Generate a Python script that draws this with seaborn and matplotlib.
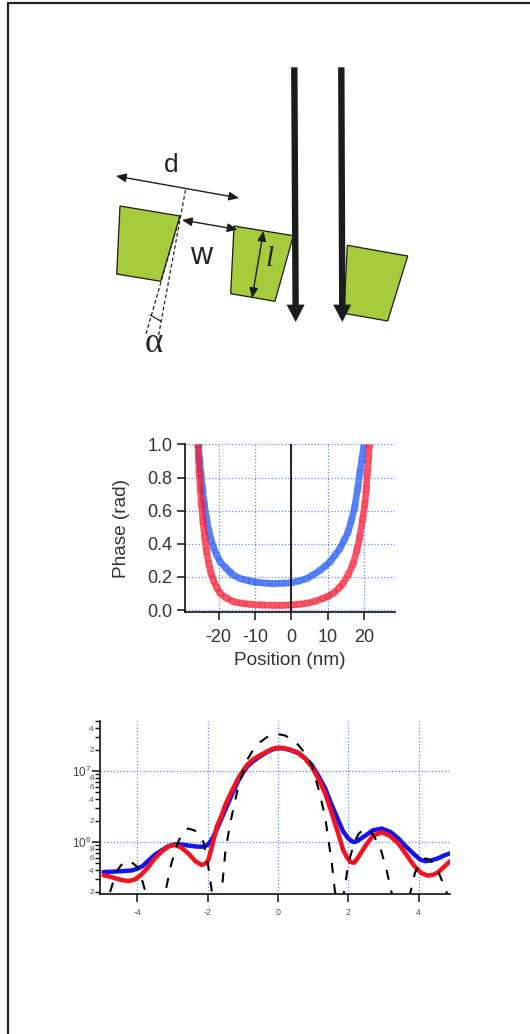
import numpy as np
import matplotlib
matplotlib.use('Agg')
import matplotlib.pyplot as plt
from matplotlib.patches import Polygon, FancyArrowPatch
from matplotlib.ticker import FixedLocator, FixedFormatter
import seaborn as sns

W, H = 530, 1034

# phase plot
blue_pos = [-25.5, -25.2, -24.8, -24.4, -23.9, -23.3, -22.7, -22, -21.4, -20.5, -19.5, -18, -16.9, -15.9, -14, -12.2, -10.8, -9.5, -7, -4.9, -2.5, 0, 2, 4.2, 6, 7.9, 9.3, 10.6, 12, 13.3, 14.5, 15.6, 16.5, 17.4, 18.2, 18.8, 19.4, 20]
blue_phase = [1.0, .9, .82, .73, .64, .55, .48, .42, .38, .33, .29, .255, .23, .21, .19, .18, .172, .167, .162, .16, .161, .165, .175, .19, .212, .24, .265, .29, .33, .37, .42, .47, .54, .62, .73, .825, .91, 1.0]
red_pos = [-25.7, -25.5, -25.3, -25, -24.7, -24.3, -23.8, -23.3, -22.7, -22.1, -21.4, -20.5, -19.5, -18, -15.9, -13.5, -11.3, -8, -4.9, -2.5, 0, 2, 4.2, 6.5, 8.8, 10.2, 11.5, 13, 14.2, 15.7, 17, 18, 18.8, 19.6, 20.2, 20.6, 20.9, 21.2, 21.5]
red_phase = [1.0, .91, .825, .73, .64, .54, .44, .355, .28, .225, .18, .135, .10, .075, .05, .04, .034, .03, .028, .028, .03, .034, .04, .052, .07, .083, .10, .13, .16, .215, .28, .36, .44, .55, .64, .73, .825, .91, 1.0]

# log plot, values as log10
blue_x = [-4.96, -4.7, -4.4, -4.15, -4, -3.85, -3.7, -3.5, -3.3, -3.1, -2.93, -2.75, -2.55, -2.3, -2.12, -2.0, -1.9, -1.79, -1.65, -1.5, -1.3, -1.13, -1.0, -.88, -.7, -.5, -.3, -.15, 0, .15, .35, .58, .78, .96, 1.15, 1.34, 1.52, 1.71, 1.85, 2.0, 2.1, 2.19, 2.3, 2.47, 2.7, 2.95, 3.2, 3.42, 3.65, 3.89, 4.05, 4.18, 4.35, 4.55, 4.72, 4.89]
blue_log = [5.577, 5.582, 5.59, 5.60, 5.624, 5.66, 5.73, 5.82, 5.885, 5.945, 5.967, 5.965, 5.95, 5.935, 5.934, 5.96, 6.02, 6.12, 6.28, 6.45, 6.68, 6.863, 6.97, 7.06, 7.14, 7.21, 7.27, 7.305, 7.32, 7.32, 7.295, 7.25, 7.175, 7.085, 6.93, 6.756, 6.53, 6.31, 6.15, 6.05, 6.01, 6.0, 6.03, 6.085, 6.165, 6.19, 6.14, 6.05, 5.93, 5.817, 5.75, 5.73, 5.74, 5.77, 5.81, 5.84]
red_x = [-4.96, -4.8, -4.63, -4.45, -4.25, -4.08, -3.92, -3.75, -3.5, -3.3, -3.1, -2.93, -2.75, -2.55, -2.35, -2.17, -2.05, -1.98, -1.87, -1.74, -1.6, -1.5, -1.3, -1.13, -1, -.88, -.7, -.5, -.37, -.15, 0, .15, .35, .58, .78, .96, 1.15, 1.34, 1.52, 1.71, 1.85, 1.95, 2.05, 2.17, 2.3, 2.47, 2.7, 2.95, 3.2, 3.42, 3.65, 3.89, 4.08, 4.27, 4.42, 4.55, 4.72, 4.89]
red_log = [5.531, 5.515, 5.489, 5.465, 5.451, 5.47, 5.525, 5.61, 5.77, 5.87, 5.94, 5.958, 5.92, 5.84, 5.73, 5.676, 5.70, 5.746, 5.95, 6.215, 6.38, 6.52, 6.73, 6.897, 7.0, 7.085, 7.165, 7.225, 7.258, 7.315, 7.328, 7.325, 7.30, 7.258, 7.17, 7.06, 6.89, 6.686, 6.42, 6.122, 5.89, 5.793, 5.72, 5.708, 5.80, 5.934, 6.09, 6.137, 6.08, 5.98, 5.82, 5.652, 5.56, 5.525, 5.54, 5.573, 5.65, 5.73]
dash_x = [-4.85, -4.77, -4.6, -4.4, -4.2, -4, -3.9, -3.77, -3.5, -3.2, -3.03, -2.84, -2.7, -2.55, -2.36, -2.12, -1.98, -1.88, -1.75, -1.6, -1.5, -1.36, -1.13, -1, -.88, -.7, -.5, -.25, 0, .2, .4, .58, .78, .96, 1.15, 1.34, 1.53, 1.62, 1.75, 1.88, 2, 2.17, 2.3, 2.47, 2.66, 2.9, 3.09, 3.22, 3.5, 3.77, 3.89, 4.05, 4.2, 4.35, 4.55, 4.79, 4.85]
dash_log = [5.0, 5.3, 5.58, 5.71, 5.73, 5.65, 5.53, 5.3, 5.0, 5.3, 5.7, 6.0, 6.14, 6.19, 6.16, 6.0, 5.65, 5.3, 5.0, 5.3, 5.85, 6.263, 6.78, 6.98, 7.155, 7.3, 7.41, 7.5, 7.52, 7.5, 7.44, 7.366, 7.24, 7.085, 6.75, 6.356, 5.7, 5.3, 5.0, 5.3, 5.7, 6.0, 6.12, 6.19, 6.14, 5.934, 5.6, 5.3, 5.0, 5.3, 5.56, 5.72, 5.77, 5.74, 5.59, 5.3, 5.0]

# schematic, in image pixels
block_left = [(120, 206), (180, 216), (160.7, 281.3), (116.7, 274)]
block_mid = [(234, 226), (293.3, 235.7), (275, 301.3), (230.7, 293.7)]
block_right = [(347.3, 245.3), (407.7, 256), (387.7, 321), (344, 313.3)]
beams = [((294.3, 67.3), (295.7, 322)), ((341.3, 67.3), (342.3, 322))]
double_arrows = [((116, 176), (239, 198)), ((182, 220), (237.5, 229.5)), ((263.5, 231), (252, 298))]
dashed = [((185.5, 190), (158.3, 336.7)), ((180, 216), (146, 334))]
labels = [('d', 171, 165, 'Liberation Sans', 'normal', 19), ('w', 201.5, 256.5, 'Liberation Sans', 'normal', 22),
          ('l', 269.5, 259, 'Liberation Serif', 'italic', 21), ('α', 154, 344, 'Liberation Serif', 'normal', 25)]

sns.set_theme(style='white')
plt.rcParams['font.family'] = ['Liberation Sans', 'DejaVu Sans']
plt.rcParams['mathtext.default'] = 'regular'
plt.rcParams['axes.unicode_minus'] = False

GRID = '#6f86f5'
TEXT = '#333333'

fig = plt.figure(figsize=(W / 100, H / 100), dpi=100)


def axes_px(left, top, right, bottom):
    return fig.add_axes([left / W, 1 - bottom / H, (right - left) / W, (bottom - top) / H])


# whole page axes for the schematic
bg = axes_px(0, 0, W, H)
bg.set_xlim(0, W)
bg.set_ylim(H, 0)
bg.axis('off')
bg.plot([7.5, 7.5, W], [H, 2.5, 2.5], color='#222222', lw=1.6, solid_joinstyle='miter')

for pts in [block_left, block_mid, block_right]:
    bg.add_patch(Polygon(pts, closed=True, fc='#a6cb3d', ec='#1a1a1a', lw=0.9))
for a, b in dashed:
    bg.plot(*zip(a, b), color='#222222', lw=0.9, ls=(0, (3, 2)))
bg.plot([150, 161.5], [315, 321.5], color='#222222', lw=0.9)
for a, b in beams:
    bg.add_patch(FancyArrowPatch(a, b, arrowstyle='simple,head_length=12.5,head_width=13,tail_width=4.6',
                                 mutation_scale=1, shrinkA=0, shrinkB=0, fc='#1c1c1c', ec='none'))
for a, b in double_arrows:
    bg.add_patch(FancyArrowPatch(a, b, arrowstyle='<|-|>,head_length=6,head_width=2.6', mutation_scale=1,
                                 shrinkA=0, shrinkB=0, fc='#1c1c1c', ec='#1c1c1c', lw=1.0))
for s, x, y, fam, sty, size in labels:
    bg.text(x, y, s, family=fam, style=sty, fontsize=size, color='#222222', ha='center', va='center')

# phase plot
ax1 = axes_px(184.7, 444, 395, 612)
sns.lineplot(x=blue_pos, y=blue_phase, ax=ax1, color='#2f66ff', lw=4.8, alpha=0.8, sort=False, estimator=None,
             solid_capstyle='butt', marker='s', ms=4.8, mfc='none', mec='#1f50e0', mew=0.3, zorder=3)
sns.lineplot(x=red_pos, y=red_phase, ax=ax1, color='#ff1f35', lw=4.8, alpha=0.75, sort=False, estimator=None,
             solid_capstyle='butt', marker='s', ms=4.8, mfc='none', mec='#d8001a', mew=0.3, zorder=4)
ax1.axvline(0, color='black', lw=1.2, zorder=5)
ax1.set_xlim(-29.3, 28.5)
ax1.set_ylim(-0.012, 1.003)
ax1.set_xticks([-20, -10, 0, 10, 20])
ax1.set_yticks([0, .2, .4, .6, .8, 1.0])
ax1.set_yticklabels(['0.0', '0.2', '0.4', '0.6', '0.8', '1.0'])
ax1.grid(True, color=GRID, ls=':', lw=0.9)
ax1.set_axisbelow(True)
ax1.spines[['top', 'right']].set_visible(False)
ax1.spines[['left', 'bottom']].set_linewidth(1.2)
ax1.spines[['left', 'bottom']].set_color('#111111')
ax1.tick_params(axis='both', direction='out', length=5.5, width=1.1, color='#111111', labelsize=13,
                labelcolor=TEXT, bottom=True, left=True)
ax1.tick_params(axis='x', pad=6.5)
ax1.tick_params(axis='y', pad=3.5)
ax1.set_xlabel('Position (nm)', fontsize=13.7, color=TEXT, labelpad=4.5)
ax1.set_ylabel('Phase (rad)', fontsize=13.7, color=TEXT)
ax1.yaxis.set_label_coords((130 - 184.7) / 210.3, 0.5)

# log plot
ax2 = axes_px(100, 721, 450, 893.7)
ax2.set_yscale('log')
sns.lineplot(x=dash_x, y=10 ** np.array(dash_log), ax=ax2, color='black', lw=1.5, sort=False, estimator=None,
             ls=(0, (4.8, 5.3)), zorder=5)
sns.lineplot(x=blue_x, y=10 ** np.array(blue_log), ax=ax2, color='#1414f0', lw=3.2, sort=False, estimator=None, zorder=3)
sns.lineplot(x=red_x, y=10 ** np.array(red_log), ax=ax2, color='#f5111f', lw=3.2, sort=False, estimator=None, zorder=4)
ax2.set_xlim(-5.06, 4.89)
ax2.set_ylim(1.87e5, 5.06e7)
ax2.set_xticks([-4, -2, 0, 2, 4])
ax2.yaxis.set_major_locator(FixedLocator([1e6, 1e7]))
ax2.yaxis.set_major_formatter(FixedFormatter(['$10^6$', '$10^7$']))
minor = [2e5, 3e5, 4e5, 5e5, 6e5, 7e5, 8e5, 9e5, 2e6, 3e6, 4e6, 5e6, 6e6, 7e6, 8e6, 9e6, 2e7, 3e7, 4e7, 5e7]
minor_txt = ['2', '', '4', '', '6', '', '8', '', '2', '', '4', '', '6', '', '8', '', '2', '', '4', '']
ax2.yaxis.set_minor_locator(FixedLocator(minor))
ax2.yaxis.set_minor_formatter(FixedFormatter(minor_txt))
ax2.grid(True, which='major', color=GRID, ls=':', lw=0.9)
ax2.set_axisbelow(True)
ax2.spines[['top', 'right']].set_visible(False)
ax2.spines[['left', 'bottom']].set_linewidth(1.2)
ax2.spines[['left', 'bottom']].set_color('#111111')
ax2.tick_params(axis='x', direction='out', length=6, width=1.1, color='#111111', labelsize=6.5, labelcolor='#555555',
                pad=4.5, bottom=True)
ax2.tick_params(axis='y', which='major', direction='out', length=6, width=1.1, color='#111111', labelsize=8.5,
                labelcolor='#444444', pad=0.5, left=True)
ax2.tick_params(axis='y', which='minor', direction='out', length=3.5, width=1.0, color='#111111', labelsize=6,
                labelcolor='#555555', pad=1, left=True)

fig.savefig('out.png', dpi=100)
